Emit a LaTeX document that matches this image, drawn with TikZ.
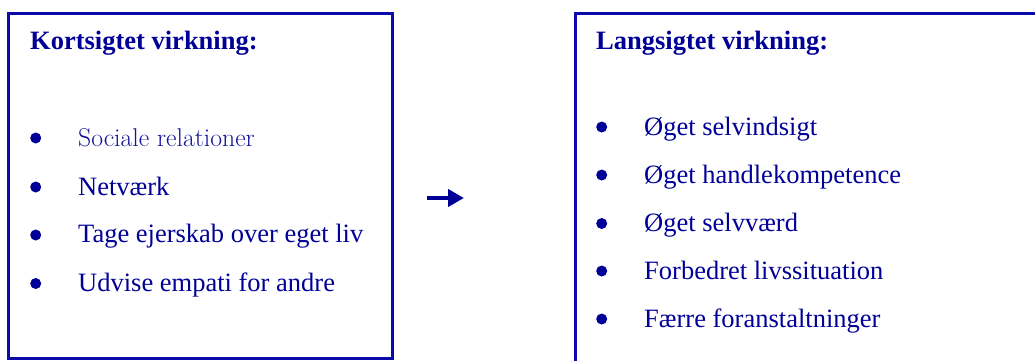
\documentclass[tikz,border=0pt]{standalone}
\usepackage{fontspec}
\setmainfont{Liberation Serif}
\newfontfamily\garafont{Latin Modern Roman}
\usetikzlibrary{arrows.meta}
\definecolor{boxblue}{RGB}{10,10,170}
\definecolor{txtblue}{RGB}{0,0,150}
\definecolor{softblue}{RGB}{20,20,150}
\tikzset{
  frame/.style={draw=boxblue, line width=3pt},
  title/.style={anchor=base west, inner sep=0pt, text=txtblue, font=\fontsize{26.5}{30}\selectfont\bfseries},
  item/.style={anchor=base west, inner sep=0pt, text=txtblue, font=\fontsize{26.5}{30}\selectfont},
  dot/.style={circle, fill=txtblue, inner sep=0pt, minimum size=11pt},
  arr/.style={draw=txtblue, line width=4.5pt, -{Triangle[length=16pt,width=17pt]}}
}
\begin{document}
\begin{tikzpicture}[x=1pt,y=-1pt]
\useasboundingbox (0,0) rectangle (1035,361);
% boxes
\draw[frame] (8,14) rectangle (392,358.5);
\draw[frame] (575.5,14) rectangle (1060,380);
% left box
\node[title] (lt) at (30,50) {Kortsigtet virkning:};
\node[dot] (lb1) at (35.7,138) {};
\node[dot] (lb2) at (35.7,187) {};
\node[dot] (lb3) at (35.7,235) {};
\node[dot] (lb4) at (35.7,283.5) {};
\node[item, text=softblue, font=\fontsize{25.7}{30}\garafont] (l1) at (78,146) {Sociale relationer};
\node[item] (l2) at (78,195) {Netværk};
\node[item] (l3) at (78,242.5) {Tage ejerskab over eget liv};
\node[item] (l4) at (78,291) {Udvise empati for andre};
% arrow
\coordinate (a1) at (427,198);
\coordinate (a2) at (464,198);
\draw[arr] (a1) -- (a2);
% right box
\node[title] (rt) at (596,50) {Langsigtet virkning:};
\node[dot] (rb1) at (601.7,127) {};
\node[dot] (rb2) at (601.7,175) {};
\node[dot] (rb3) at (601.7,223.5) {};
\node[dot] (rb4) at (601.7,271) {};
\node[dot] (rb5) at (601.7,319) {};
\node[item] (r1) at (644,135) {Øget selvindsigt};
\node[item] (r2) at (644,183) {Øget handlekompetence};
\node[item] (r3) at (644,231.5) {Øget selvværd};
\node[item] (r4) at (644,279) {Forbedret livssituation};
\node[item] (r5) at (644,327) {Færre foranstaltninger};
\end{tikzpicture}
\end{document}
